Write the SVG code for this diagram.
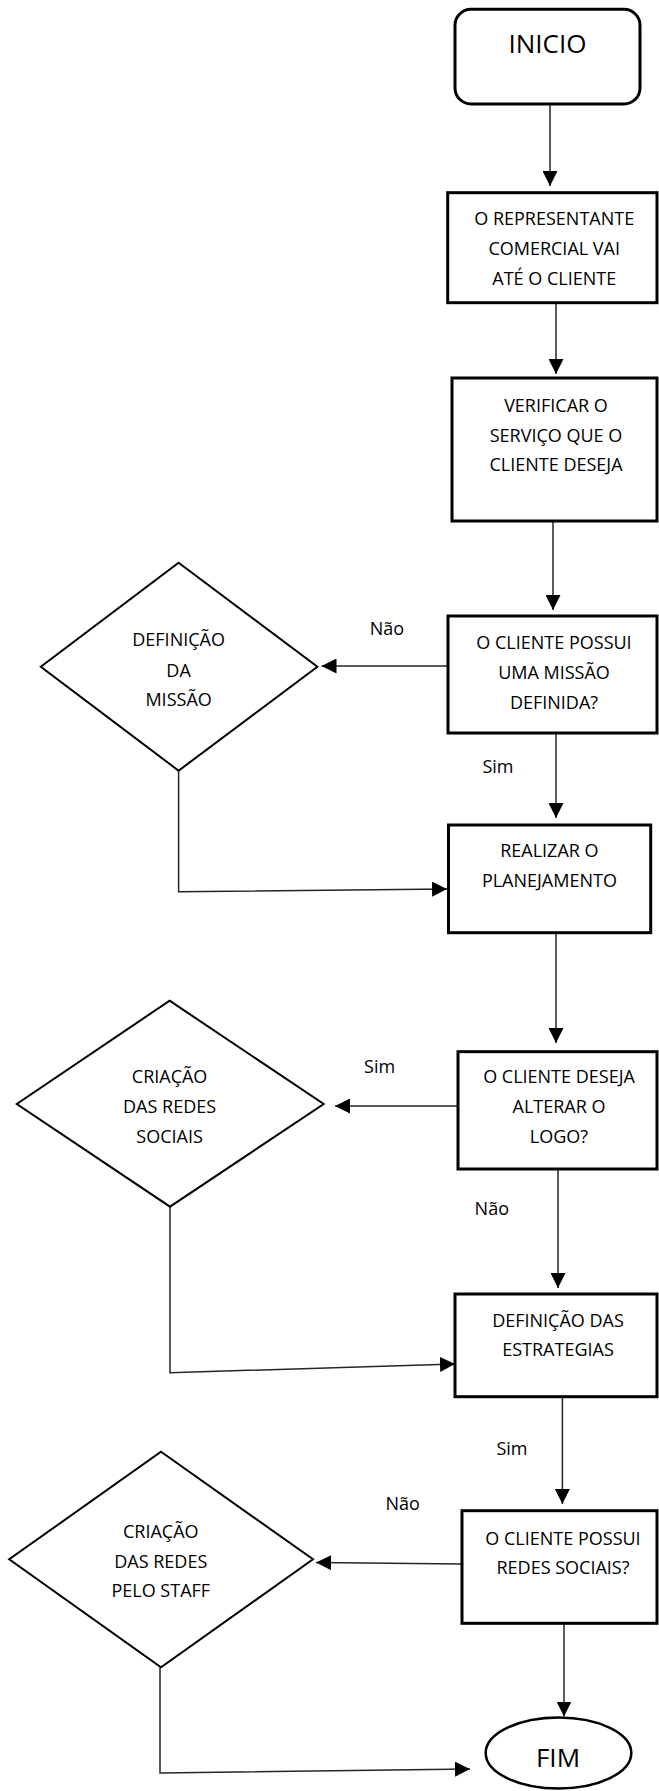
<svg xmlns="http://www.w3.org/2000/svg" width="659" height="1791" viewBox="0 0 659 1791">
<style>
  .box { fill: #ffffff; stroke: #000000; stroke-width: 3; }
  .dia { fill: #ffffff; stroke: #000000; stroke-width: 2; stroke-linejoin: miter; }
  .term { fill: #ffffff; stroke: #000000; stroke-width: 2.5; }
  .t { font-family: "Open Sans", "Noto Sans", sans-serif; font-size: 18px; fill: #000000; text-anchor: middle; }
  .big { font-size: 26px; }
  .lbl { font-family: "Open Sans", "Noto Sans", sans-serif; font-size: 18px; fill: #000000; text-anchor: middle; }
  .con { fill: none; stroke: #262626; stroke-width: 1.5; marker-end: url(#arrow); }
</style>
<defs>
  <marker id="arrow" viewBox="0 0 15 15" markerWidth="15" markerHeight="15" refX="15" refY="7.5" orient="auto" markerUnits="userSpaceOnUse">
    <path d="M0,0 L15,7.5 L0,15 Z" fill="#000000"/>
  </marker>
</defs>
<rect width="659" height="1791" fill="#ffffff"/>

<g id="connectors">
  <path class="con" d="M550,104 V186"/>
  <path class="con" d="M556,303 V374"/>
  <path class="con" d="M553,521 V610"/>
  <path class="con" d="M448,666 H321.5"/>
  <path class="con" d="M556,733 V818"/>
  <path class="con" d="M178.6,770.7 V891.7 L447,889"/>
  <path class="con" d="M556,933 V1043"/>
  <path class="con" d="M458,1106 H335"/>
  <path class="con" d="M558,1169 V1288"/>
  <path class="con" d="M170,1206.7 V1372.7 L455,1364"/>
  <path class="con" d="M562.4,1397 V1504"/>
  <path class="con" d="M462,1564 L316,1562.5"/>
  <path class="con" d="M564,1623 V1716.5"/>
  <path class="con" d="M160,1667.3 V1773 L470,1769"/>
</g>

<g id="labels">
  <text class="lbl" x="387" y="635">Não</text>
  <text class="lbl" x="498" y="772.7">Sim</text>
  <text class="lbl" x="379.6" y="1073">Sim</text>
  <text class="lbl" x="491.8" y="1215">Não</text>
  <text class="lbl" x="512" y="1455">Sim</text>
  <text class="lbl" x="402.7" y="1510">Não</text>
</g>

<g id="inicio">
  <rect class="box" x="455" y="9.3" width="185" height="94.7" rx="16" ry="16"/>
  <text class="t big" x="547.5" y="53.3">INICIO</text>
</g>

<g id="representante">
  <rect class="box" x="447.7" y="192.7" width="209.3" height="110"/>
  <text class="t" x="554.2" y="225">O REPRESENTANTE</text>
  <text class="t" x="554.2" y="255">COMERCIAL VAI</text>
  <text class="t" x="554.2" y="285">ATÉ O CLIENTE</text>
</g>

<g id="verificar">
  <rect class="box" x="452" y="378" width="205" height="143"/>
  <text class="t" x="556" y="412">VERIFICAR O</text>
  <text class="t" x="556" y="442">SERVIÇO QUE O</text>
  <text class="t" x="556" y="471">CLIENTE DESEJA</text>
</g>

<g id="missao-definida">
  <rect class="box" x="448" y="616" width="209" height="117"/>
  <text class="t" x="554" y="649">O CLIENTE POSSUI</text>
  <text class="t" x="554" y="679">UMA MISSÃO</text>
  <text class="t" x="554" y="708.5">DEFINIDA?</text>
</g>

<g id="definicao-missao">
  <polygon class="dia" points="178.6,562.7 317.4,666.7 178.6,770.7 40.8,666.7"/>
  <text class="t" x="178.6" y="646">DEFINIÇÃO</text>
  <text class="t" x="178.6" y="677">DA</text>
  <text class="t" x="178.6" y="706">MISSÃO</text>
</g>

<g id="planejamento">
  <rect class="box" x="448.5" y="825" width="202.2" height="107.7"/>
  <text class="t" x="549.4" y="856.7">REALIZAR O</text>
  <text class="t" x="549.4" y="886.7">PLANEJAMENTO</text>
</g>

<g id="alterar-logo">
  <rect class="box" x="458" y="1051.7" width="199" height="117.3"/>
  <text class="t" x="559" y="1083">O CLIENTE DESEJA</text>
  <text class="t" x="559" y="1112.7">ALTERAR O</text>
  <text class="t" x="559" y="1143">LOGO?</text>
</g>

<g id="criacao-redes">
  <polygon class="dia" points="169.6,1000.7 323.7,1104 170,1206.7 16.8,1104"/>
  <text class="t" x="169.6" y="1083">CRIAÇÃO</text>
  <text class="t" x="169.6" y="1113">DAS REDES</text>
  <text class="t" x="169.6" y="1143">SOCIAIS</text>
</g>

<g id="estrategias">
  <rect class="box" x="455" y="1294" width="202" height="102.7"/>
  <text class="t" x="558" y="1326.7">DEFINIÇÃO DAS</text>
  <text class="t" x="558" y="1356">ESTRATEGIAS</text>
</g>

<g id="redes-sociais">
  <rect class="box" x="462" y="1510.7" width="195" height="112.6"/>
  <text class="t" x="563" y="1545">O CLIENTE POSSUI</text>
  <text class="t" x="563" y="1574">REDES SOCIAIS?</text>
</g>

<g id="criacao-staff">
  <polygon class="dia" points="161,1451.7 313,1559.3 161,1667.3 9.2,1559.3"/>
  <text class="t" x="160.8" y="1538">CRIAÇÃO</text>
  <text class="t" x="160.8" y="1568">DAS REDES</text>
  <text class="t" x="160.8" y="1597">PELO STAFF</text>
</g>

<g id="fim">
  <ellipse class="term" cx="558.5" cy="1753" rx="72.8" ry="35.5"/>
  <text class="t big" x="558" y="1767">FIM</text>
</g>
</svg>
